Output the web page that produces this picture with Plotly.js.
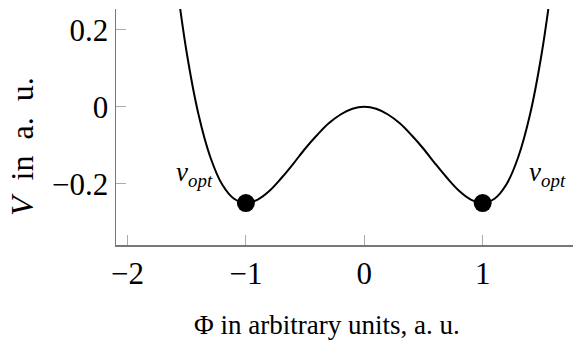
<!DOCTYPE html>
<html>
<head>
<meta charset="utf-8">
<script src="https://cdn.plot.ly/plotly-3.0.1.min.js"></script>
<style>html,body{margin:0;padding:0;background:#fff;}#chart{width:573px;height:341px;}</style>
</head>
<body>
<div id="chart"></div>
<script>
// Potential curve
const phi = [-1.6,-1.5,-1.4,-1.3,-1.2,-1.1,-1.0,-0.9,-0.8,-0.7,-0.6,-0.5,-0.4,-0.3,-0.2,-0.1,0,
             0.1,0.2,0.3,0.4,0.5,0.6,0.7,0.8,0.9,1.0,1.1,1.2,1.3,1.4,1.5,1.6];
const V = [0.358,0.141,-0.020,-0.131,-0.202,-0.239,-0.250,-0.241,-0.218,-0.185,-0.148,-0.109,-0.074,-0.043,-0.020,-0.005,0,
           -0.005,-0.020,-0.043,-0.074,-0.109,-0.148,-0.185,-0.218,-0.241,-0.250,-0.239,-0.202,-0.131,-0.020,0.141,0.358];
// optimum points
const optPhi = [-1, 1];
const optV = [-0.25, -0.25];
const xTicks = [-2, -1, 0, 1];
const yTicks = [-0.2, 0, 0.2];
const optLabel = '<i>v</i><sub><i>opt</i></sub>';
const xTitle = 'Φ in arbitrary units, a. u.';
const yTitle = '<i>V</i>&nbsp; in&nbsp; a.&nbsp; u.';

const serif = '"Liberation Serif", "DejaVu Serif", serif';

const data = [
  {x: phi, y: V, type: 'scatter', mode: 'lines', line: {color: '#000', width: 2, shape: 'spline'}, hoverinfo: 'skip'},
  {x: optPhi, y: optV, type: 'scatter', mode: 'markers', marker: {color: '#000', size: 18}, hoverinfo: 'skip'}
];

const L = 116, R = 0, T = 9, B = 96, W = 573, H = 341;
const px2paperX = p => (p - L) / (W - L - R);
const px2paperY = p => (H - B - p) / (H - T - B);

const layout = {
  width: W, height: H,
  margin: {l: L, r: R, t: T, b: B},
  showlegend: false,
  paper_bgcolor: '#fff', plot_bgcolor: '#fff',
  font: {family: serif, size: 29, color: '#000'},
  xaxis: {
    range: [-2.097, 1.763], tickvals: xTicks, ticktext: xTicks.map(v => v < 0 ? '\u2212' + Math.abs(v) : String(v)),
    showgrid: false, zeroline: false, showline: true, linecolor: '#777', linewidth: 1.5,
    ticks: 'inside', ticklen: 10, tickcolor: '#aaa', tickwidth: 1.2,
    tickfont: {family: serif, size: 31, color: '#000'}
  },
  yaxis: {
    range: [-0.359, 0.254], tickvals: yTicks, ticktext: ['\u22120.2', '0', '0.2'],
    showgrid: false, zeroline: false, showline: true, linecolor: '#777', linewidth: 1.5,
    ticks: 'inside', ticklen: 10, tickcolor: '#aaa', tickwidth: 1.2,
    tickfont: {family: serif, size: 31, color: '#000'}
  },
  annotations: [
    {x: -1.43, y: -0.175, xref: 'x', yref: 'y', xanchor: 'center', yanchor: 'middle', text: optLabel, showarrow: false, font: {family: serif, size: 27}},
    {x: 1.545, y: -0.175, xref: 'x', yref: 'y', xanchor: 'center', yanchor: 'middle', text: optLabel, showarrow: false, font: {family: serif, size: 27}},
    {x: px2paperX(327), y: px2paperY(325), xref: 'paper', yref: 'paper', xanchor: 'center', yanchor: 'middle', text: xTitle, showarrow: false, font: {family: serif, size: 27}},
    {x: px2paperX(22), y: px2paperY(147), xref: 'paper', yref: 'paper', xanchor: 'center', yanchor: 'middle', text: yTitle, showarrow: false, textangle: -90, font: {family: serif, size: 32}}
  ]
};

Plotly.newPlot('chart', data, layout, {displayModeBar: false, staticPlot: true});
</script>
</body>
</html>
